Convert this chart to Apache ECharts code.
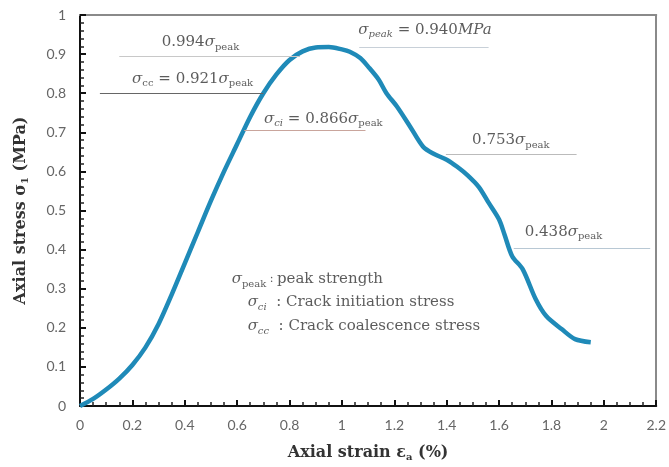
<!DOCTYPE html>
<html>
<head>
<meta charset="utf-8">
<script src="https://cdn.jsdelivr.net/npm/echarts@6/dist/echarts.min.js"></script>
<style>
  html, body { margin: 0; padding: 0; background: #fff; }
  #chart { width: 669px; height: 467px; }
</style>
</head>
<body>
<div id="chart"></div>
<script>
// axial strain (%) and axial stress (MPa)
var strain = [0, 0.05, 0.10, 0.15, 0.20, 0.25, 0.30, 0.35, 0.40, 0.45, 0.50, 0.55, 0.60, 0.65, 0.70, 0.75, 0.80, 0.85, 0.90, 0.95, 1.00, 1.03, 1.07, 1.10, 1.14, 1.17, 1.21, 1.26, 1.31, 1.35, 1.40, 1.44, 1.48, 1.523, 1.56, 1.60, 1.62, 1.65, 1.69, 1.74, 1.78, 1.84, 1.89, 1.95];
var stress = [0, 0.018, 0.042, 0.070, 0.105, 0.150, 0.210, 0.285, 0.365, 0.445, 0.525, 0.600, 0.670, 0.740, 0.800, 0.848, 0.885, 0.907, 0.917, 0.918, 0.912, 0.906, 0.890, 0.868, 0.835, 0.800, 0.766, 0.715, 0.663, 0.645, 0.630, 0.612, 0.590, 0.560, 0.520, 0.477, 0.440, 0.383, 0.350, 0.273, 0.230, 0.196, 0.171, 0.163];

// reference lines: [from strain, to strain, stress level]
var refLines = [
  [0.15, 0.84, 0.895],
  [0.076, 0.70, 0.80],
  [0.627, 1.09, 0.705],
  [1.066, 1.56, 0.918],
  [1.397, 1.896, 0.645],
  [1.656, 2.177, 0.403]
];
var refColors = ['#c8c8c8', '#666666', '#c9a59c', '#c8d0d8', '#bbbbbb', '#b8c8d4'];

// annotation texts (rich) and their centre in data space
var annoTexts = [
  '0.994{s|σ}{sub|peak}',
  '{s|σ}{sub|cc} = 0.921{s|σ}{sub|peak}',
  '{s|σ}{sub2|ci} = 0.866{s|σ}{sub|peak}',
  '{s|σ}{sub2|peak} = 0.940{s|MPa}',
  '0.753{s|σ}{sub|peak}',
  '0.438{s|σ}{sub|peak}'
];
var annoPos = [[0.46, 0.931], [0.43, 0.837], [0.929, 0.735], [1.317, 0.962], [1.645, 0.679], [1.846, 0.446]];

// legend-like notes, left aligned at their anchor
var noteTexts = [
  '{s|σ}{sub|peak}{c| : }peak strength',
  '{s|σ}{sub2|ci}  : Crack initiation stress',
  '{s|σ}{sub2|cc}  : Crack coalescence stress'
];
var notePos = [[0.579, 0.324], [0.64, 0.265], [0.64, 0.204]];

var chart = echarts.init(document.getElementById('chart'));

var serif = '"DejaVu Serif", "Liberation Serif", serif';
var sans = 'Lato, "Open Sans", sans-serif';
var rich = {
  s: { fontFamily: serif, fontStyle: 'italic', fontSize: 15, color: '#333' },
  sub: { fontFamily: serif, fontSize: 10, color: '#333', padding: [10, 0, 0, 0] },
  sub2: { fontFamily: serif, fontStyle: 'italic', fontSize: 10, color: '#333', padding: [10, 0, 0, 0] },
  c: { fontFamily: serif, fontSize: 11, color: '#333' }
};

var curve = strain.map(function (x, i) { return [x, stress[i]]; });

var lineData = refLines.map(function (l, i) {
  return [
    { coord: [l[0], l[2]], lineStyle: { color: refColors[i] } },
    { coord: [l[1], l[2]] }
  ];
});

var annoData = annoPos.map(function (p, i) {
  return { value: p, label: { formatter: annoTexts[i] } };
});
var noteData = notePos.map(function (p, i) {
  return { value: p, label: { formatter: noteTexts[i] } };
});

var tickStyle = { color: '#111', width: 2 };
var minorStyle = { color: '#222', width: 1.5 };

// grey top / right frame drawn as bare axes
function frameAxis(min, max, pos) {
  return {
    type: 'value', min: min, max: max, position: pos,
    axisLine: { show: true, onZero: false, lineStyle: { color: '#8a8a8a', width: 2 } },
    axisTick: { show: false },
    axisLabel: { show: false },
    splitLine: { show: false }
  };
}

var option = {
  animation: false,
  grid: { left: 80, right: 11, top: 15, bottom: 60 },
  xAxis: [{
    type: 'value', min: 0, max: 2.2, interval: 0.2, position: 'bottom',
    name: 'Axial strain ε{a|a} (%)',
    nameLocation: 'middle', nameGap: 38,
    nameTextStyle: {
      fontFamily: serif, fontWeight: 'bold', fontSize: 16, color: '#333',
      rich: { a: { fontFamily: serif, fontWeight: 'bold', fontSize: 10, color: '#333', padding: [8, 0, 0, 0] } }
    },
    axisLine: { show: true, onZero: false, lineStyle: { color: '#111', width: 2 } },
    axisTick: { show: true, inside: true, length: 6, lineStyle: tickStyle },
    minorTick: { show: true, splitNumber: 4, length: 4, lineStyle: minorStyle },
    axisLabel: {
      margin: 12, fontFamily: sans, fontSize: 14, color: '#666',
      formatter: function (v) { return String(Math.round(v * 10) / 10); }
    },
    splitLine: { show: false }
  }, frameAxis(0, 2.2, 'top')],
  yAxis: [{
    type: 'value', min: 0, max: 1, interval: 0.1, position: 'left',
    name: 'Axial stress σ{a|1} (MPa)',
    nameLocation: 'middle', nameGap: 50,
    nameTextStyle: {
      fontFamily: serif, fontWeight: 'bold', fontSize: 16, color: '#333',
      rich: { a: { fontFamily: serif, fontWeight: 'bold', fontSize: 10, color: '#333', padding: [8, 0, 0, 0] } }
    },
    axisLine: { show: true, onZero: false, lineStyle: { color: '#111', width: 2 } },
    axisTick: { show: true, inside: true, length: 6, lineStyle: tickStyle },
    minorTick: { show: true, splitNumber: 5, length: 4, lineStyle: minorStyle },
    axisLabel: {
      margin: 14, fontFamily: sans, fontSize: 14, color: '#666',
      formatter: function (v) { return String(Math.round(v * 10) / 10); }
    },
    splitLine: { show: false }
  }, frameAxis(0, 1, 'right')],
  series: [
    {
      type: 'line',
      xAxisIndex: 0,
      yAxisIndex: 0,
      data: curve,
      smooth: 0.3,
      showSymbol: false,
      lineStyle: { color: '#1f8ab8', width: 4.5 },
      markLine: {
        silent: true,
        symbol: ['none', 'none'],
        label: { show: false },
        lineStyle: { type: 'solid', width: 1 },
        data: lineData
      },
      z: 3
    },
    {
      // annotation labels, centred on their anchor
      type: 'scatter',
      xAxisIndex: 0,
      yAxisIndex: 0,
      symbolSize: 0,
      silent: true,
      data: annoData,
      label: {
        show: true, position: 'inside',
        fontFamily: serif, fontSize: 15, color: '#333', rich: rich
      },
      z: 5
    },
    {
      // key notes, left edge at their anchor
      type: 'scatter',
      xAxisIndex: 0,
      yAxisIndex: 0,
      symbolSize: 0,
      silent: true,
      data: noteData,
      label: {
        show: true, position: 'right', distance: 0,
        fontFamily: serif, fontSize: 15, color: '#333', rich: rich
      },
      z: 5
    }
  ]
};

chart.setOption(option);
</script>
</body>
</html>
